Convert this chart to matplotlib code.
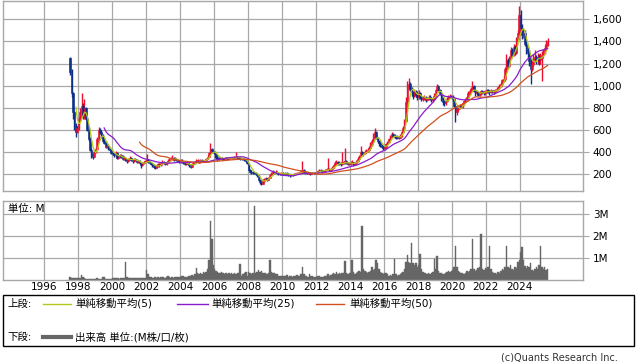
import numpy as np
import pandas as pd
import matplotlib
matplotlib.use("Agg")
import matplotlib.pyplot as plt
from matplotlib.lines import Line2D
from matplotlib.patches import Rectangle
from matplotlib.ticker import FuncFormatter

plt.rcParams['font.family'] = ['DejaVu Sans', 'Noto Sans CJK JP']

# monthly data, Jul 1997 .. Aug 2025
start_month = '1997-07'
first_open = 1250

closes = [
    1120, 930, 760, 640, 580, 620,                                  # 1997 (Jul-Dec)
    700, 760, 820, 720, 800, 700, 600, 520, 420, 370, 360, 400,     # 1998
    430, 520, 600, 580, 540, 500, 480, 450, 460, 430, 420, 390,     # 1999
    380, 370, 390, 350, 360, 370, 360, 340, 350, 330, 320, 340,     # 2000
    350, 330, 320, 340, 330, 310, 320, 300, 280, 300, 310, 320,     # 2001
    330, 310, 300, 290, 280, 270, 260, 280, 290, 280, 300, 310,     # 2002
    300, 290, 310, 320, 330, 340, 350, 330, 340, 330, 320, 310,     # 2003
    320, 310, 300, 290, 300, 290, 280, 270, 290, 300, 310, 320,     # 2004
    320, 310, 330, 320, 320, 330, 340, 360, 390, 430, 410, 400,     # 2005
    380, 360, 345, 340, 350, 345, 340, 345, 350, 340, 345, 350,     # 2006
    345, 350, 355, 360, 350, 345, 340, 335, 340, 330, 320, 300,     # 2007
    240, 225, 220, 215, 210, 205, 190, 150, 130, 115, 140, 160,     # 2008
    165, 150, 170, 190, 210, 220, 215, 225, 210, 205, 200, 210,     # 2009
    205, 200, 210, 205, 195, 190, 200, 195, 200, 205, 210, 215,     # 2010
    220, 230, 240, 220, 215, 210, 215, 205, 210, 215, 210, 215,     # 2011
    220, 230, 240, 235, 225, 230, 240, 245, 250, 240, 250, 260,     # 2012
    280, 300, 310, 290, 300, 290, 310, 300, 320, 300, 290, 300,     # 2013
    300, 310, 290, 300, 320, 340, 360, 400, 380, 390, 400, 410,     # 2014
    420, 440, 470, 500, 540, 580, 530, 500, 480, 460, 450, 440,     # 2015
    450, 470, 490, 520, 540, 560, 550, 540, 530, 540, 530, 550,     # 2016
    580, 620, 680, 850, 1000, 1020, 980, 940, 910, 950, 920, 900,   # 2017
    930, 900, 880, 890, 900, 870, 880, 900, 890, 870, 880, 910,     # 2018
    960, 1000, 960, 930, 880, 850, 840, 860, 880, 900, 910, 900,    # 2019
    880, 820, 760, 790, 800, 820, 810, 840, 860, 870, 900, 930,     # 2020
    950, 970, 1000, 950, 930, 940, 920, 930, 950, 940, 930, 950,    # 2021
    960, 950, 940, 960, 950, 940, 960, 970, 980, 1000, 1020, 1050,  # 2022
    1060, 1150, 1230, 1180, 1250, 1320, 1280, 1350, 1300, 1420, 1480, 1640,  # 2023
    1520, 1460, 1480, 1380, 1320, 1300, 1220, 1150, 1200, 1240, 1260, 1240,  # 2024
    1260, 1230, 1250, 1280, 1300, 1340, 1380, 1400,                 # 2025 (Jan-Aug)
]

highs = [
    1260, 1150, 940, 770, 660, 640,
    720, 800, 930, 840, 880, 810, 720, 620, 540, 440, 390, 420,
    450, 540, 630, 620, 600, 560, 520, 500, 480, 475, 440, 430,
    400, 395, 410, 400, 375, 385, 380, 370, 365, 360, 340, 350,
    365, 355, 340, 350, 345, 335, 330, 325, 305, 310, 320, 330,
    380, 340, 320, 310, 300, 290, 280, 295, 305, 300, 310, 325,
    320, 310, 320, 335, 345, 355, 370, 360, 355, 350, 340, 330,
    340, 335, 320, 310, 310, 305, 300, 285, 300, 315, 320, 335,
    335, 330, 340, 340, 330, 340, 350, 370, 400, 480, 440, 420,
    410, 390, 370, 355, 360, 360, 350, 355, 360, 355, 355, 360,
    360, 360, 365, 405, 365, 355, 350, 345, 350, 345, 335, 325,
    305, 250, 235, 230, 225, 220, 210, 195, 160, 135, 150, 170,
    175, 170, 180, 200, 220, 235, 230, 235, 230, 215, 210, 220,
    220, 215, 220, 220, 210, 200, 205, 205, 210, 215, 220, 225,
    230, 240, 320, 245, 225, 220, 225, 220, 215, 225, 220, 225,
    230, 240, 250, 250, 240, 240, 250, 260, 350, 255, 260, 275,
    290, 320, 330, 320, 320, 310, 400, 320, 440, 330, 310, 315,
    320, 330, 315, 310, 330, 355, 375, 460, 410, 400, 420, 430,
    435, 455, 490, 520, 570, 620, 590, 540, 510, 490, 470, 460,
    470, 480, 505, 530, 555, 580, 570, 560, 550, 555, 550, 565,
    595, 640, 700, 900, 1040, 1070, 1030, 990, 950, 970, 960, 930,
    960, 940, 920, 910, 920, 910, 895, 920, 915, 900, 900, 930,
    975, 1020, 1010, 975, 940, 895, 870, 875, 895, 915, 925, 920,
    915, 890, 830, 810, 820, 835, 830, 850, 870, 885, 910, 950,
    970, 990, 1040, 1010, 960, 955, 950, 945, 965, 960, 950, 965,
    975, 970, 960, 975, 965, 960, 975, 985, 995, 1015, 1035, 1065,
    1085, 1170, 1290, 1250, 1270, 1350, 1340, 1380, 1370, 1440, 1500, 1720,
    1680, 1560, 1520, 1500, 1400, 1350, 1320, 1250, 1230, 1290, 1320, 1280,
    1300, 1290, 1300, 1310, 1330, 1370, 1410, 1430,
]

lows = [
    1100, 900, 700, 600, 540, 570,
    600, 680, 740, 700, 700, 690, 590, 500, 410, 350, 340, 355,
    390, 420, 500, 560, 530, 490, 470, 440, 440, 420, 410, 380,
    370, 360, 360, 340, 340, 350, 350, 330, 330, 320, 300, 310,
    330, 320, 305, 315, 320, 300, 300, 290, 260, 275, 295, 305,
    310, 300, 290, 280, 265, 260, 250, 255, 270, 270, 275, 295,
    290, 280, 285, 305, 315, 325, 335, 320, 325, 320, 310, 300,
    300, 300, 290, 280, 280, 280, 270, 255, 265, 285, 295, 305,
    305, 300, 305, 310, 310, 315, 325, 335, 355, 385, 400, 390,
    350, 340, 320, 330, 335, 335, 330, 335, 340, 330, 335, 340,
    335, 340, 345, 350, 340, 335, 330, 325, 330, 320, 310, 290,
    230, 215, 205, 205, 200, 195, 180, 140, 115, 100, 110, 135,
    150, 140, 145, 165, 185, 205, 205, 210, 205, 195, 190, 195,
    200, 195, 195, 200, 185, 180, 185, 185, 190, 195, 200, 205,
    210, 215, 215, 215, 205, 200, 205, 195, 200, 205, 200, 205,
    210, 215, 225, 225, 215, 220, 225, 235, 240, 230, 235, 245,
    255, 275, 290, 280, 285, 275, 285, 290, 295, 290, 280, 285,
    285, 290, 275, 280, 295, 315, 335, 355, 370, 365, 380, 395,
    400, 410, 430, 460, 490, 530, 520, 480, 460, 445, 440, 420,
    420, 440, 460, 480, 510, 530, 535, 530, 515, 520, 520, 525,
    540, 570, 610, 670, 840, 960, 950, 910, 880, 900, 900, 870,
    880, 880, 860, 860, 870, 850, 860, 870, 870, 850, 855, 870,
    900, 950, 950, 920, 860, 830, 820, 830, 850, 870, 890, 885,
    860, 800, 670, 740, 770, 790, 795, 800, 830, 850, 860, 890,
    915, 935, 960, 940, 910, 915, 905, 910, 920, 925, 915, 920,
    935, 930, 920, 930, 935, 925, 930, 950, 960, 970, 990, 1010,
    1030, 1040, 1130, 1160, 1170, 1240, 1260, 1270, 1280, 1290, 1400, 1460,
    1490, 1420, 1430, 1360, 1290, 1250, 1180, 1020, 1130, 1180, 1210, 1200,
    1200, 1190, 1200, 1040, 1260, 1290, 1320, 1360,
]

# volume in millions of shares
volumes = [
    0.12, 0.10, 0.10, 0.08, 0.10, 0.09,
    0.08, 0.10, 0.23, 0.12, 0.08, 0.05, 0.05, 0.04, 0.04, 0.04, 0.05, 0.05,
    0.06, 0.08, 0.06, 0.05, 0.05, 0.12, 0.13, 0.06, 0.05, 0.04, 0.04, 0.05,
    0.10, 0.08, 0.07, 0.08, 0.07, 0.06, 0.08, 0.10, 0.10, 0.80, 0.15, 0.10,
    0.08, 0.07, 0.08, 0.10, 0.08, 0.07, 0.08, 0.07, 0.10, 0.08, 0.08, 0.10,
    0.45, 0.25, 0.15, 0.12, 0.10, 0.10, 0.12, 0.10, 0.12, 0.10, 0.15, 0.12,
    0.12, 0.10, 0.15, 0.18, 0.12, 0.10, 0.12, 0.10, 0.13, 0.12, 0.15, 0.12,
    0.14, 0.18, 0.20, 0.15, 0.12, 0.15, 0.20, 0.18, 0.22, 0.20, 0.25, 0.53,
    0.30, 0.25, 0.30, 0.28, 0.35, 0.30, 0.38, 0.50, 0.90, 2.70, 1.85, 0.70,
    0.50, 0.40, 0.35, 0.30, 0.30, 0.35, 0.30, 0.28, 0.30, 0.25, 0.30, 0.28,
    0.30, 0.25, 0.30, 0.25, 0.30, 0.30, 0.72, 0.20, 0.25, 0.30, 0.35, 0.20,
    0.35, 0.30, 0.25, 0.30, 3.35, 0.30, 0.38, 0.45, 0.35, 0.40, 0.30, 0.30,
    0.30, 0.25, 0.30, 0.90, 0.35, 0.30, 0.30, 0.25, 0.28, 0.20, 0.20, 0.20,
    0.20, 0.18, 0.20, 0.22, 0.15, 0.18, 0.20, 0.15, 0.18, 0.20, 0.22, 0.20,
    0.20, 0.25, 0.60, 0.25, 0.20, 0.20, 0.15, 0.25, 0.20, 0.18, 0.15, 0.15,
    0.15, 0.20, 0.18, 0.15, 0.12, 0.15, 0.18, 0.20, 0.25, 0.20, 0.22, 0.25,
    0.30, 0.25, 0.38, 0.25, 0.30, 0.28, 0.30, 0.30, 0.86, 0.30, 0.25, 0.30,
    0.30, 0.90, 0.35, 0.25, 0.30, 0.35, 0.40, 0.35, 2.45, 0.50, 0.40, 0.35,
    0.30, 0.35, 0.40, 0.60, 0.45, 0.50, 0.90, 0.75, 0.50, 0.35, 0.30, 0.25,
    0.30, 0.30, 0.25, 0.20, 0.22, 0.20, 0.25, 0.97, 0.25, 0.20, 0.22, 0.25,
    0.30, 0.35, 0.50, 0.80, 1.15, 0.80, 0.75, 1.70, 0.75, 0.70, 0.75, 0.60,
    0.70, 1.20, 0.50, 0.35, 0.30, 0.30, 0.25, 0.30, 0.25, 0.30, 0.35, 0.95,
    0.50, 1.10, 0.40, 0.30, 0.30, 0.28, 0.25, 0.30, 0.35, 0.40, 0.35, 0.40,
    0.45, 0.60, 1.55, 0.60, 0.40, 0.35, 0.30, 0.30, 0.25, 0.30, 0.40, 0.35,
    0.40, 0.50, 1.85, 0.50, 0.40, 0.45, 0.55, 0.60, 2.10, 0.50, 0.45, 0.55,
    0.50, 0.60, 1.55, 0.50, 0.35, 0.30, 0.30, 0.25, 0.35, 0.30, 0.40, 0.50,
    0.45, 0.60, 1.55, 0.60, 0.55, 0.70, 0.50, 0.45, 0.60, 0.55, 0.80, 0.90,
    1.25, 1.50, 0.90, 0.65, 0.55, 0.65, 0.60, 0.75, 0.45, 0.40, 0.50, 0.60,
    0.50, 0.70, 1.55, 0.60, 0.50, 0.60, 0.45, 0.50,
]

year_ticks = list(range(1996, 2025, 2))
price_ticks = [200, 400, 600, 800, 1000, 1200, 1400, 1600]
vol_ticks = [1, 2, 3]

# ---- build frame ----
df = pd.DataFrame({'close': closes, 'high': highs, 'low': lows, 'vol': volumes})
df['open'] = df['close'].shift(1).fillna(first_open)
dates = pd.date_range(start_month, periods=len(df), freq='MS')
df['t'] = dates.year + (dates.month - 1) / 12 + 1 / 24
df['ma5'] = df['close'].rolling(5).mean()
df['ma25'] = df['close'].rolling(25).mean()
df['ma50'] = df['close'].rolling(50).mean()

up_col = '#e8102e'
dn_col = '#0c2f8a'
c5, c25, c50 = '#b4c81c', '#8a1ccc', '#d2501e'
grid_col = '#a8a8a8'
W, H = 638, 362

fig = plt.figure(figsize=(W / 100, H / 100), dpi=100)

def fx(px):
    return px / W

def fy(py):
    return 1 - py / H

ax = fig.add_axes([fx(3), fy(190.7), fx(580), (190.7 - 0.5) / H])
axv = fig.add_axes([fx(3), fy(280), fx(580), 79 / H])

xmin, xmax = 1993.59, 2027.71

for a in (ax, axv):
    a.set_xlim(xmin, xmax)
    for s in a.spines.values():
        s.set_color(grid_col)
        s.set_linewidth(1.0)
    a.set_xticks(year_ticks)
    a.grid(True, color=grid_col, linewidth=0.9)
    a.set_axisbelow(True)
    a.yaxis.tick_right()
    a.tick_params(axis='y', length=4, color=grid_col, labelsize=7.5, pad=3)
    a.tick_params(axis='x', length=0)

# candles
up = df['close'] >= df['open']
colors = np.where(up, up_col, dn_col)
ax.vlines(df['t'], df['low'], df['high'], colors=colors, linewidth=1.0, zorder=2)
body_lo = np.minimum(df['open'], df['close'])
body_h = np.maximum(np.abs(df['close'] - df['open']), 5)
ax.bar(df['t'], body_h, bottom=body_lo, width=0.09, color=colors,
       edgecolor=colors, linewidth=0.4, zorder=2)

ax.plot(df['t'], df['ma5'], color=c5, linewidth=0.9, zorder=3)
ax.plot(df['t'], df['ma25'], color=c25, linewidth=0.9, zorder=3)
ax.plot(df['t'], df['ma50'], color=c50, linewidth=0.9, zorder=3)

ax.set_ylim(52, 1770)
ax.set_yticks(price_ticks)
ax.yaxis.set_major_formatter(FuncFormatter(lambda v, p: f'{int(v):,}'))
ax.set_xticklabels([])

# volume
axv.bar(df['t'], df['vol'], width=1 / 12, color='#666666', edgecolor='#666666',
        linewidth=0.3, zorder=2)
axv.set_ylim(0, 3.59)
axv.set_yticks(vol_ticks)
axv.set_yticklabels([f'{v}M' for v in vol_ticks])
axv.set_xticklabels([str(y) for y in year_ticks])
axv.tick_params(axis='x', labelsize=7.5, pad=1.5)
axv.text(0.009, 0.9, '単位: M', transform=axv.transAxes, fontsize=7.5,
         ha='left', va='center')

# legend box
fig.patches.append(Rectangle((fx(3), fy(346)), fx(631), 51 / H, transform=fig.transFigure,
                             fill=False, edgecolor='black', linewidth=1.0))
row1, row2 = fy(303.5), fy(337)
fig.text(fx(7), row1, '上段:', fontsize=7.5, va='center')
fig.text(fx(7), row2, '下段:', fontsize=7.5, va='center')
legend_items = [(43, 71, 75, c5, '単純移動平均(5)'),
                (177, 208, 211, c25, '単純移動平均(25)'),
                (316, 344, 349, c50, '単純移動平均(50)')]
for x0, x1, xt, col, label in legend_items:
    fig.add_artist(Line2D([fx(x0), fx(x1)], [row1, row1], color=col, linewidth=1.0,
                          transform=fig.transFigure))
    fig.text(fx(xt), row1, label, fontsize=7.5, va='center')
fig.add_artist(Line2D([fx(43), fx(71)], [row2, row2], color='#666666', linewidth=3.0,
                      transform=fig.transFigure))
fig.text(fx(75), row2, '出来高 単位:(M株/口/枚)', fontsize=7.5, va='center')

fig.text(fx(618), fy(357.5), '(c)Quants Research Inc.', fontsize=7, ha='right',
         va='center', color='#333333')

fig.savefig('out.png', dpi=100)
